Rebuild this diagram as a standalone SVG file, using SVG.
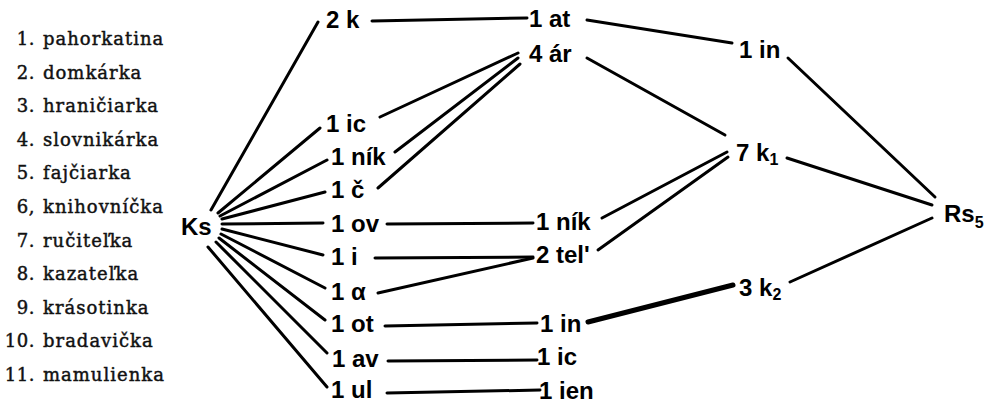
<svg xmlns="http://www.w3.org/2000/svg" width="994" height="407" viewBox="0 0 994 407">
<style>
.lst{font-family:"DejaVu Serif","Liberation Serif",serif;font-size:18px;fill:#111;stroke:#111;stroke-width:0.45;letter-spacing:1px}
.num{font-family:"DejaVu Serif","Liberation Serif",serif;font-size:18px;fill:#111;stroke:#111;stroke-width:0.45;text-anchor:end;letter-spacing:0.5px}
.nd{font-family:"Liberation Sans","DejaVu Sans",sans-serif;font-size:24px;font-weight:bold;fill:#000}
.sub{font-size:16px}
.cn line{stroke:#000;stroke-width:3;stroke-linecap:round}
</style>
<rect width="994" height="407" fill="#fff"/>
<g id="legend">
<text class="num" x="35" y="45">1.</text><text class="lst" x="43" y="45">pahorkatina</text>
<text class="num" x="35" y="79">2.</text><text class="lst" x="43" y="79">domkárka</text>
<text class="num" x="35" y="112">3.</text><text class="lst" x="43" y="112">hraničiarka</text>
<text class="num" x="35" y="146">4.</text><text class="lst" x="43" y="146">slovnikárka</text>
<text class="num" x="35" y="179">5.</text><text class="lst" x="43" y="179">fajčiarka</text>
<text class="num" x="35" y="213">6,</text><text class="lst" x="43" y="213">knihovníčka</text>
<text class="num" x="35" y="247">7.</text><text class="lst" x="43" y="247">ručiteľka</text>
<text class="num" x="35" y="280">8.</text><text class="lst" x="43" y="280">kazateľka</text>
<text class="num" x="35" y="314">9.</text><text class="lst" x="43" y="314">krásotinka</text>
<text class="num" x="35" y="347">10.</text><text class="lst" x="43" y="347">bradavička</text>
<text class="num" x="35" y="381">11.</text><text class="lst" x="43" y="381">mamulienka</text>
</g>
<g id="connectors" class="cn">
<line x1="211" y1="210" x2="318" y2="22"/>
<line x1="218" y1="213" x2="320" y2="128"/>
<line x1="220" y1="216" x2="327" y2="160"/>
<line x1="222" y1="219" x2="325" y2="192"/>
<line x1="222" y1="224" x2="323" y2="223"/>
<line x1="222" y1="229" x2="323" y2="255"/>
<line x1="221" y1="234" x2="325" y2="288"/>
<line x1="219" y1="238" x2="325" y2="320"/>
<line x1="216" y1="242" x2="327" y2="353"/>
<line x1="208" y1="247" x2="327" y2="387"/>
<line x1="372" y1="21" x2="527" y2="18"/>
<line x1="380" y1="117" x2="518" y2="53"/>
<line x1="395" y1="152" x2="518" y2="58"/>
<line x1="378" y1="188" x2="520" y2="64"/>
<line x1="587" y1="20" x2="732" y2="43"/>
<line x1="587" y1="58" x2="725" y2="135"/>
<line x1="788" y1="58" x2="935" y2="197"/>
<line x1="787" y1="158" x2="932" y2="205"/>
<line x1="387" y1="224" x2="533" y2="223"/>
<line x1="375" y1="258" x2="533" y2="257"/>
<line x1="378" y1="293" x2="533" y2="258"/>
<line x1="602" y1="218" x2="727" y2="152"/>
<line x1="598" y1="250" x2="728" y2="157"/>
<line x1="385" y1="326" x2="537" y2="323"/>
<line x1="588" y1="322" x2="733" y2="285" style="stroke-width:5"/>
<line x1="790" y1="282" x2="932" y2="218"/>
<line x1="388" y1="361" x2="537" y2="360"/>
<line x1="387" y1="393" x2="540" y2="390"/>
</g>
<g id="Ks"><text class="nd" x="181" y="235">Ks</text></g>
<g id="n2k"><text class="nd" x="326" y="28">2 k</text></g>
<g id="n1ic"><text class="nd" x="326" y="132">1 ic</text></g>
<g id="n1nik"><text class="nd" x="331" y="165">1 ník</text></g>
<g id="n1c"><text class="nd" x="331" y="198">1 č</text></g>
<g id="n1ov"><text class="nd" x="331" y="232">1 ov</text></g>
<g id="n1i"><text class="nd" x="331" y="265">1 i</text></g>
<g id="n1a"><text class="nd" x="331" y="300">1 α</text></g>
<g id="n1ot"><text class="nd" x="331" y="332">1 ot</text></g>
<g id="n1av"><text class="nd" x="332" y="367">1 av</text></g>
<g id="n1ul"><text class="nd" x="331" y="398">1 ul</text></g>
<g id="n1at"><text class="nd" x="529" y="27">1 at</text></g>
<g id="n4ar"><text class="nd" x="529" y="62">4 ár</text></g>
<g id="n1nik2"><text class="nd" x="536" y="230">1 ník</text></g>
<g id="n2tel"><text class="nd" x="536" y="263">2 tel'</text></g>
<g id="n1in2"><text class="nd" x="540" y="332">1 in</text></g>
<g id="n1ic2"><text class="nd" x="537" y="365">1 ic</text></g>
<g id="n1ien"><text class="nd" x="539" y="399">1 ien</text></g>
<g id="n1in"><text class="nd" x="739" y="58">1 in</text></g>
<g id="n7k1"><text class="nd" x="736" y="161">7 k<tspan class="sub" dy="4">1</tspan></text></g>
<g id="n3k2"><text class="nd" x="739" y="296">3 k<tspan class="sub" dy="4">2</tspan></text></g>
<g id="Rs5"><text class="nd" x="944" y="222">Rs<tspan class="sub" dy="6">5</tspan></text></g>
</svg>
